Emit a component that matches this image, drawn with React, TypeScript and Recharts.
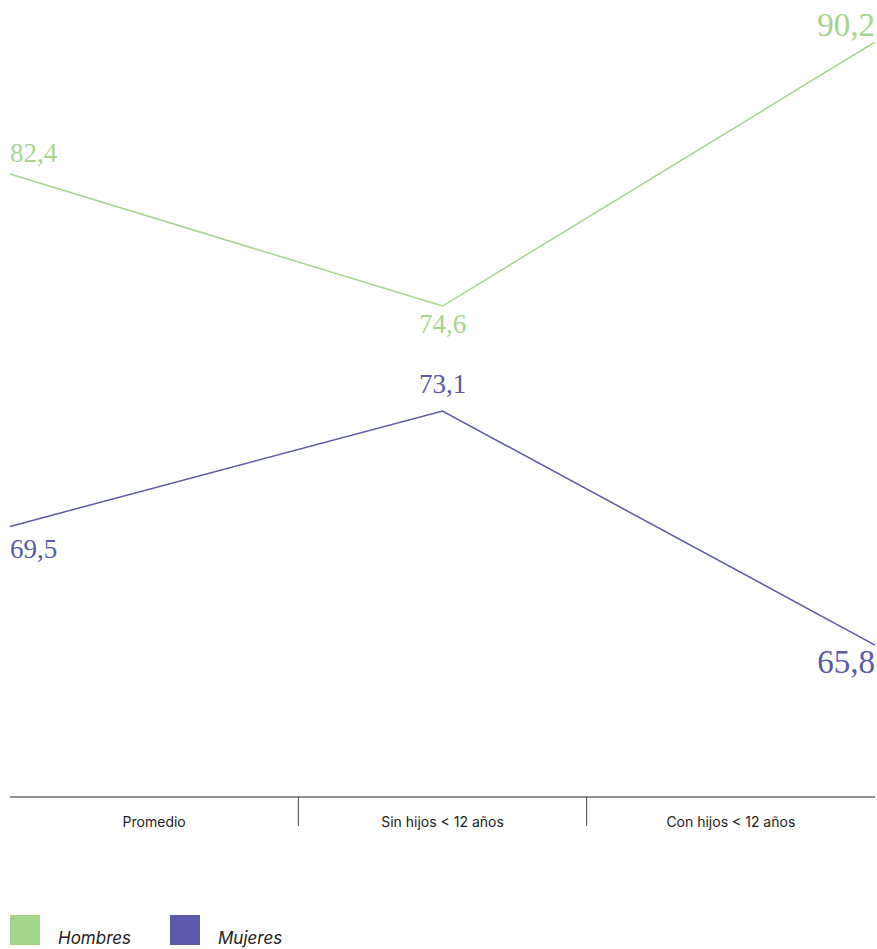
import { LineChart, Line, XAxis, YAxis, Legend, LabelList } from "recharts";

const categories = ["Promedio", "Sin hijos < 12 años", "Con hijos < 12 años"];
const hombres = [82.4, 74.6, 90.2];
const mujeres = [69.5, 73.1, 65.8];

const GREEN = "#a5d58b";
const PURPLE = "#5b59a9";

const data = categories.map((name, i) => ({ name, hombres: hombres[i], mujeres: mujeres[i] }));

const W = 877;
const H = 949;
const PLOT_W = W - 12;

const fmt = (v: number) => v.toFixed(1).replace(".", ",");

// label placement per point: [dy, anchor, fontSize]
const hombresPos: [number, string, number][] = [
  [-12, "start", 27],
  [27, "middle", 27],
  [-6, "end", 33],
];
const mujeresPos: [number, string, number][] = [
  [32, "start", 27],
  [-18, "middle", 27],
  [28, "end", 33],
];

const makeLabel = (color: string, pos: [number, string, number][]) => (props: any) => {
  const { x, y, value, index } = props;
  const [dy, anchor, size] = pos[index];
  return (
    <text
      x={x}
      y={y + dy}
      fill={color}
      textAnchor={anchor as any}
      fontFamily="'Liberation Serif', serif"
      fontSize={size}
    >
      {fmt(value)}
    </text>
  );
};

const CategoryTick = (props: any) => {
  const { x, y, payload, index } = props;
  const half = PLOT_W / categories.length / 2;
  return (
    <g>
      {index > 0 && (
        <line x1={x - half} x2={x - half} y1={y} y2={y + 29} stroke="#444" strokeWidth={1} />
      )}
      <text x={x} y={y + 30} textAnchor="middle" fontFamily="Inter, sans-serif" fontSize={14} fill="#222">
        {payload.value}
      </text>
    </g>
  );
};

const LegendBox = () => (
  <div style={{ height: 40, display: "flex", alignItems: "flex-end", fontFamily: "Inter, sans-serif" }}>
    {[
      ["Hombres", GREEN],
      ["Mujeres", PURPLE],
    ].map(([label, color]) => (
      <div key={label} style={{ display: "flex", alignItems: "flex-end", width: 160 }}>
        <div style={{ width: 30, height: 30, background: color }} />
        <span style={{ marginLeft: 18, fontStyle: "italic", fontSize: 17, color: "#222", lineHeight: "17px", marginBottom: -2 }}>
          {label}
        </span>
      </div>
    ))}
  </div>
);

export default function App() {
  return (
    <>
      <style>{"body{margin:0}"}</style>
      <LineChart width={W} height={H} data={data} margin={{ top: 42, right: 2, bottom: 4, left: 10 }}>
        <XAxis xAxisId="pts" dataKey="name" hide />
        <XAxis
          xAxisId="cat"
          dataKey="name"
          scale="band"
          height={108}
          axisLine={{ stroke: "#222", strokeWidth: 1 }}
          tickLine={false}
          tickSize={0}
          tickMargin={0}
          tick={<CategoryTick />}
          interval={0}
        />
        <YAxis yAxisId="h" type="number" domain={[45.59, 90.2]} allowDataOverflow hide />
        <YAxis yAxisId="m" type="number" domain={[61.06, 84.61]} allowDataOverflow hide />
        <Line
          xAxisId="pts"
          yAxisId="h"
          dataKey="hombres"
          stroke={GREEN}
          strokeWidth={1.5}
          dot={false}
          activeDot={false}
          isAnimationActive={false}
        >
          <LabelList dataKey="hombres" content={makeLabel(GREEN, hombresPos)} />
        </Line>
        <Line
          xAxisId="pts"
          yAxisId="m"
          dataKey="mujeres"
          stroke={PURPLE}
          strokeWidth={1.5}
          dot={false}
          activeDot={false}
          isAnimationActive={false}
        >
          <LabelList dataKey="mujeres" content={makeLabel(PURPLE, mujeresPos)} />
        </Line>
        <Legend verticalAlign="bottom" align="left" height={40} content={<LegendBox />} />
      </LineChart>
    </>
  );
}
